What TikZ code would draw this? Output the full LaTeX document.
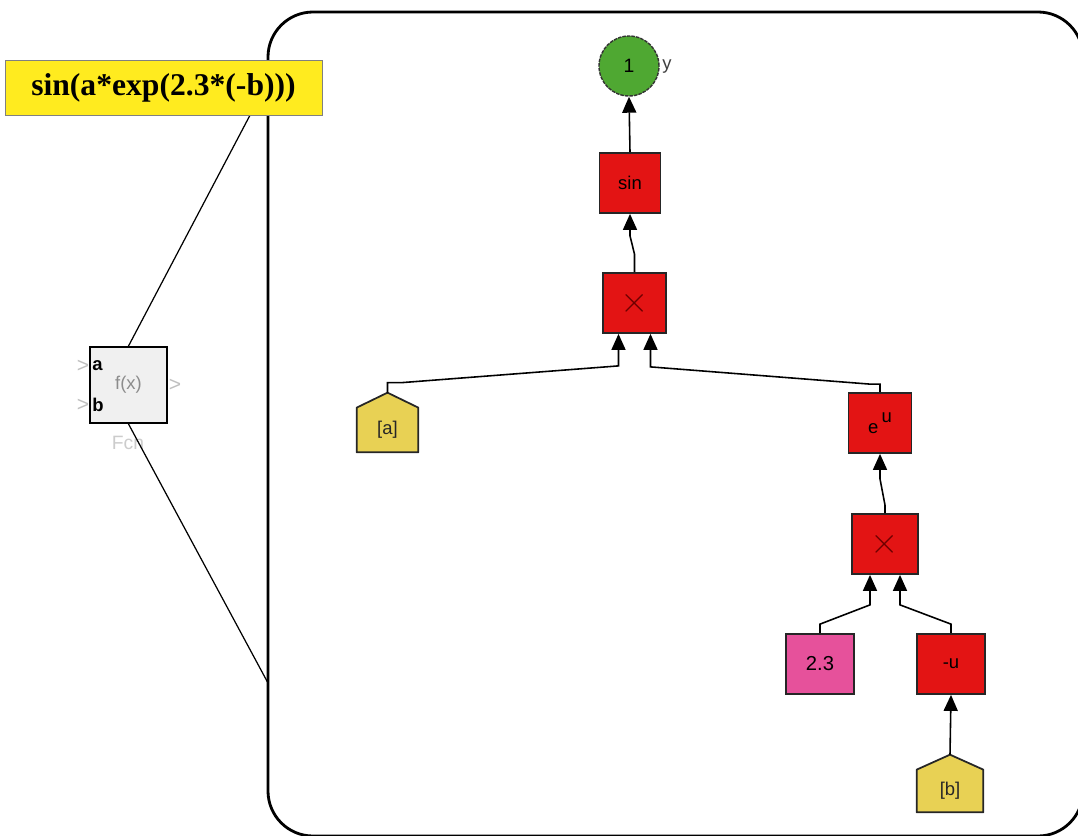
\documentclass[tikz,border=0pt]{standalone}
\usepackage{fontspec}
\setmainfont{Liberation Serif}
\setsansfont{Liberation Sans}
\usetikzlibrary{arrows.meta,backgrounds}
\definecolor{blockred}{HTML}{E31414}
\definecolor{constpink}{HTML}{E6519B}
\definecolor{portgold}{HTML}{E8D154}
\definecolor{outgreen}{HTML}{4FA832}
\definecolor{notefill}{HTML}{FFEB1F}
\definecolor{crossred}{HTML}{6E0000}
\begin{document}
\begin{tikzpicture}[x=.2mm,y=-.2mm,
  opbox/.style={draw=black!85,line width=1pt,fill=blockred,minimum width=12.6mm,minimum height=12mm,inner sep=0pt,font=\sffamily\fontsize{10.5}{12}\selectfont},
  constbox/.style={opbox,fill=constpink,minimum width=13.6mm,font=\sffamily\fontsize{11.5}{12}\selectfont},
  inport/.style={inner sep=0pt,text=black!85,font=\sffamily\fontsize{10.5}{12}\selectfont},
  portshape/.style={draw=black!85,line width=1pt,fill=portgold,line join=round},
  link/.style={line width=.9pt,-{Triangle[width=2.8mm,length=3.2mm]}},
  zoomline/.style={line width=.7pt},
  crossmark/.style={text=crossred,font=\fontsize{20}{20}\selectfont},
  chevron/.style={text=black!25,font=\sffamily\fontsize{12}{12}\selectfont}]
  \useasboundingbox (0,0) rectangle (1078,835);
  \clip (0,0) rectangle (1078,835);
  \draw[line width=1.6pt,rounded corners=9mm] (268,12) rectangle (1083,836);
  % collapsed block
  \node[draw=black,line width=1.1pt,fill=black!6,minimum width=15.4mm,minimum height=15.2mm,inner sep=0pt,text=black!45,font=\sffamily\fontsize{10.5}{12}\selectfont] (fcn) at (128.5,385) {f(x)};
  \node[font=\sffamily\bfseries\fontsize{10.5}{12}\selectfont,anchor=west,inner sep=0pt] (fcna) at (92,366) {a};
  \node[font=\sffamily\bfseries\fontsize{10.5}{12}\selectfont,anchor=west,inner sep=0pt] (fcnb) at (92,405) {b};
  \node[chevron] (fcnin1) at (83,366) {>};
  \node[chevron] (fcnin2) at (83,405) {>};
  \node[chevron] (fcnout) at (175,385) {>};
  \node[text=black!20,font=\sffamily\fontsize{11}{12}\selectfont] (fcnname) at (128,443) {Fcn};
  \coordinate (zoomtop) at (268,81);
  \coordinate (zoombot) at (268,683);
  \draw[zoomline] (fcn.north) -- (zoomtop);
  \draw[zoomline] (fcn.south) -- (zoombot);
  % expression tree
  \node[circle,draw=black!80,line width=.8pt,dash pattern=on 2pt off .6pt,fill=outgreen,minimum size=12mm,inner sep=0pt,font=\sffamily\fontsize{11}{12}\selectfont] (out) at (629,66) {1};
  \node[font=\sffamily\fontsize{10.5}{12}\selectfont,text=black!75,anchor=west,inner sep=0pt] (outname) at (662,67) {y};
  \node[opbox,minimum width=12.2mm] (sin) at (630,183) {sin};
  \node[opbox,crossmark] (mul1) at (634.5,303) {$\times$};
  \node[opbox] (eu) at (880,423) {e\raisebox{1.1ex}{\,u}};
  \node[opbox,crossmark,minimum width=13.2mm] (mul2) at (885,544) {$\times$};
  \node[constbox] (c23) at (820,664) {2.3};
  \node[opbox,minimum width=13.6mm] (neg) at (951,664) {-u};
  \node[inport,minimum width=12.2mm,minimum height=8.8mm] (ina) at (387.5,430) {[a]};
  \node[inport,minimum width=13.2mm,minimum height=8.4mm] (inb) at (950,791) {[b]};
  \begin{pgfonlayer}{background}
    \filldraw[portshape] (ina.south west) -- (ina.south east) -- (ina.north east) -- ([yshift=3mm]ina.north) -- (ina.north west) -- cycle;
    \filldraw[portshape] (inb.south west) -- (inb.south east) -- (inb.north east) -- ([yshift=3mm]inb.north) -- (inb.north west) -- cycle;
  \end{pgfonlayer}
  \draw[link] (sin.north) -- (out.south);
  \draw[link] (mul1.north) -- ++(0,-18) -- ([yshift=-4.4mm]sin.south) -- (sin.south);
  \draw[link] ([yshift=3mm]ina.north) -- ++(0,-10) -- ++(14,0) -- ([xshift=-3.2mm,yshift=-6.4mm]mul1.south) -- ([xshift=-3.2mm]mul1.south);
  \draw[link] (eu.north) -- ++(0,-8) -- ++(-10,0) -- ([xshift=3.2mm,yshift=-6.6mm]mul1.south) -- ([xshift=3.2mm]mul1.south);
  \draw[link] (mul2.north) -- ++(0,-8) -- ([yshift=-5mm]eu.south) -- (eu.south);
  \draw[link] (c23.north) -- ++(0,-9) -- ([xshift=-3mm,yshift=-6mm]mul2.south) -- ([xshift=-3mm]mul2.south);
  \draw[link] (neg.north) -- ++(0,-9) -- ([xshift=3mm,yshift=-6mm]mul2.south) -- ([xshift=3mm]mul2.south);
  \draw[link] ([yshift=3mm]inb.north) -- (neg.south);
  % formula label
  \node[draw=black!50,line width=.5pt,fill=notefill,minimum width=63.4mm,minimum height=11mm,inner sep=0pt,font=\bfseries\fontsize{18}{20}\selectfont] (formula) at (163.5,87.5) {sin(a*exp(2.3*(-b)))};
\end{tikzpicture}
\end{document}
